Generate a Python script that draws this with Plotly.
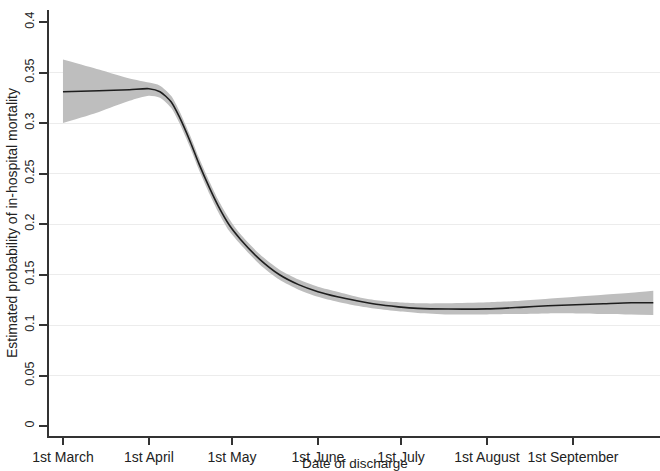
import plotly.graph_objects as go

# Data
dates = ["2020-03-01", "2020-03-14", "2020-03-25", "2020-04-01", "2020-04-05",
         "2020-04-09", "2020-04-12", "2020-04-16", "2020-04-19", "2020-04-23",
         "2020-04-26", "2020-04-30", "2020-05-04", "2020-05-11", "2020-05-18",
         "2020-05-25", "2020-06-01", "2020-06-08", "2020-06-15", "2020-06-22",
         "2020-06-30", "2020-07-07", "2020-07-18", "2020-08-01", "2020-08-13",
         "2020-08-23", "2020-09-02", "2020-09-12", "2020-09-22", "2020-09-30"]
estimate = [0.331, 0.332, 0.333, 0.334, 0.331,
            0.321, 0.306, 0.281, 0.260, 0.235,
            0.218, 0.199, 0.185, 0.165, 0.150,
            0.140, 0.133, 0.128, 0.124, 0.1205,
            0.118, 0.1165, 0.1158, 0.116, 0.1175,
            0.119, 0.120, 0.121, 0.122, 0.122]
upper = [0.363, 0.353, 0.344, 0.340, 0.337,
         0.327, 0.312, 0.287, 0.266, 0.241,
         0.224, 0.205, 0.190, 0.170, 0.155,
         0.145, 0.138, 0.133, 0.128, 0.1245,
         0.1225, 0.1215, 0.1215, 0.1225, 0.124,
         0.126, 0.128, 0.130, 0.132, 0.134]
lower = [0.300, 0.311, 0.322, 0.327, 0.325,
         0.315, 0.300, 0.275, 0.254, 0.229,
         0.212, 0.193, 0.180, 0.160, 0.145,
         0.135, 0.128, 0.123, 0.119, 0.116,
         0.1135, 0.112, 0.1105, 0.1105, 0.111,
         0.1115, 0.1115, 0.111, 0.1105, 0.110]

xtick_vals = ["2020-03-01", "2020-04-01", "2020-05-01", "2020-06-01",
              "2020-07-01", "2020-08-01", "2020-09-01"]
xtick_text = ["1st March", "1st April", "1st May", "1st June",
              "1st July", "1st August", "1st September"]
ytick_vals = [0, 0.05, 0.1, 0.15, 0.2, 0.25, 0.3, 0.35, 0.4]
ytick_text = ["0", "0.05", "0.1", "0.15", "0.2", "0.25", "0.3", "0.35", "0.4"]
grid_vals = [0.05, 0.1, 0.15, 0.2, 0.25, 0.3, 0.35]

FONT = "Liberation Sans, Arial, sans-serif"
band_col = "rgb(190,190,190)"
SM = 0.7

fig = go.Figure()
fig.add_trace(go.Scatter(x=dates, y=upper, mode="lines",
                         line=dict(width=0, shape="spline", smoothing=SM),
                         hoverinfo="skip", showlegend=False))
fig.add_trace(go.Scatter(x=dates, y=lower, mode="lines",
                         line=dict(width=0, shape="spline", smoothing=SM),
                         fill="tonexty", fillcolor=band_col, hoverinfo="skip", showlegend=False))
fig.add_trace(go.Scatter(x=dates, y=estimate, mode="lines",
                         line=dict(color="#1e1e1e", width=1.6, shape="spline", smoothing=SM),
                         showlegend=False))
# invisible trace to activate the labelled y axis
fig.add_trace(go.Scatter(x=[dates[0]], y=[estimate[0]], yaxis="y2", mode="markers",
                         marker=dict(opacity=0), hoverinfo="skip", showlegend=False))

fig.update_layout(
    width=660, height=471,
    margin=dict(l=49, r=0, t=10, b=35),
    paper_bgcolor="white", plot_bgcolor="white",
    font=dict(family=FONT, color="#222"),
    xaxis=dict(
        type="date",
        range=["2020-02-24 23:00", "2020-10-02 10:00"],
        tickmode="array", tickvals=xtick_vals, ticktext=xtick_text,
        ticks="outside", ticklen=7, tickwidth=1.5, tickcolor="#333",
        tickfont=dict(size=14, family=FONT, color="#222"),
        showline=True, linecolor="#333", linewidth=1.8,
        showgrid=False, zeroline=False,
    ),
    yaxis=dict(
        range=[-0.0099, 0.4119],
        tickmode="array", tickvals=grid_vals, showticklabels=False, ticks="",
        showgrid=True, gridcolor="#ececec", gridwidth=1,
        zeroline=False, showline=False,
    ),
    yaxis2=dict(
        overlaying="y", matches="y", side="left",
        range=[-0.0099, 0.4119],
        tickmode="array", tickvals=ytick_vals, ticktext=ytick_text,
        tickangle=-90,
        ticks="outside", ticklen=8, tickwidth=1.5, tickcolor="#333",
        tickfont=dict(size=12.5, family=FONT, color="#222"),
        showline=True, linecolor="#333", linewidth=1.8,
        showgrid=False, zeroline=False,
        title=dict(text="Estimated probability of in-hospital mortality",
                   font=dict(size=14, family=FONT, color="#222"), standoff=2),
    ),
)

fig.add_annotation(text="Date of discharge", xref="paper", yref="paper",
                   x=0.5, y=-0.0634, yanchor="middle", showarrow=False,
                   font=dict(size=13.5, family=FONT, color="#222"))

fig.write_html("out.html")
